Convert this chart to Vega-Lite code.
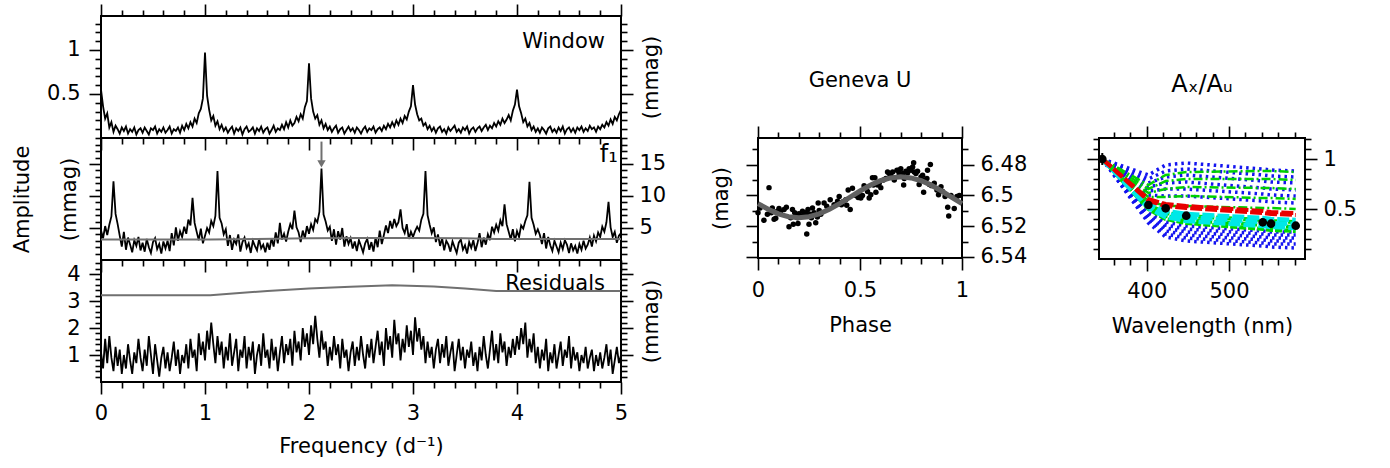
{
"$schema": "https://vega.github.io/schema/vega-lite/v6.json",
"background": "white",
"padding": {"left": 10, "top": 2, "right": 5, "bottom": 5},
"config": {
  "font": "DejaVu Sans",
  "view": {"stroke": "#000", "strokeWidth": 2},
  "axis": {"domain": false, "grid": false, "tickColor": "#000", "tickWidth": 1.6, "labelColor": "#000", "labelFont": "DejaVu Sans", "labelFontSize": 21, "titleFont": "DejaVu Sans", "titleFontSize": 21, "titleFontWeight": "normal", "titleColor": "#000", "labelOverlap": false, "labelFlush": false, "labelPadding": 6},
  "title": {"font": "DejaVu Sans", "fontSize": 21, "fontWeight": "normal", "color": "#000"},
  "text": {"font": "DejaVu Sans", "fontSize": 21, "color": "#000"}
},
"datasets": {
"spec": [
{"f":0,"w":0.55,"a":4.6,"r":1.1},{"f":0.02,"w":0.36,"a":3.4,"r":0.5},{"f":0.04,"w":0.22,"a":5.3,"r":1.6},{"f":0.06,"w":0.28,"a":3.9,"r":0.7},{"f":0.08,"w":0.12,"a":5.5,"r":1.7},{"f":0.1,"w":0.18,"a":6.8,"r":0.9},{"f":0.12,"w":0.07,"a":12.3,"r":0.4},{"f":0.14,"w":0.14,"a":7.2,"r":1.3},{"f":0.16,"w":0.1,"a":5.6,"r":0.6},{"f":0.18,"w":0.05,"a":3.8,"r":1.2},
{"f":0.2,"w":0.12,"a":2.1,"r":0.3},{"f":0.22,"w":0.08,"a":4.4,"r":1.0},{"f":0.24,"w":0.13,"a":1.6,"r":0.5},{"f":0.26,"w":0.05,"a":3.5,"r":1.4},{"f":0.28,"w":0.1,"a":2.4,"r":0.8},{"f":0.3,"w":0.07,"a":1.2,"r":0.3},{"f":0.32,"w":0.12,"a":3.1,"r":1.1},{"f":0.34,"w":0.04,"a":2.2,"r":0.7},{"f":0.36,"w":0.09,"a":3.6,"r":1.6},{"f":0.38,"w":0.11,"a":1.5,"r":0.9},
{"f":0.4,"w":0.06,"a":2.7,"r":0.4},{"f":0.42,"w":0.12,"a":1.3,"r":1.2},{"f":0.44,"w":0.08,"a":3.3,"r":0.6},{"f":0.46,"w":0.04,"a":2.0,"r":1.7},{"f":0.48,"w":0.11,"a":1.1,"r":1.0},{"f":0.5,"w":0.09,"a":2.8,"r":0.3},{"f":0.52,"w":0.13,"a":3.4,"r":1.4},{"f":0.54,"w":0.05,"a":1.7,"r":0.8},{"f":0.56,"w":0.1,"a":2.5,"r":0.2},{"f":0.58,"w":0.07,"a":1.0,"r":0.9},
{"f":0.6,"w":0.12,"a":2.9,"r":1.3},{"f":0.62,"w":0.06,"a":1.8,"r":0.5},{"f":0.64,"w":0.09,"a":3.0,"r":1.1},{"f":0.66,"w":0.13,"a":1.4,"r":0.4},{"f":0.68,"w":0.05,"a":4.2,"r":0.9},{"f":0.7,"w":0.1,"a":2.3,"r":1.5},{"f":0.72,"w":0.08,"a":5.1,"r":0.6},{"f":0.74,"w":0.12,"a":3.0,"r":1.2},{"f":0.76,"w":0.06,"a":4.5,"r":0.3},{"f":0.78,"w":0.14,"a":3.6,"r":1.0},
{"f":0.8,"w":0.09,"a":5.2,"r":0.7},{"f":0.82,"w":0.16,"a":4.1,"r":1.4},{"f":0.84,"w":0.11,"a":6.3,"r":0.5},{"f":0.86,"w":0.18,"a":5.4,"r":1.6},{"f":0.88,"w":0.13,"a":9.7,"r":0.9},{"f":0.9,"w":0.22,"a":5.8,"r":1.2},{"f":0.92,"w":0.17,"a":4.4,"r":0.4},{"f":0.94,"w":0.28,"a":3.1,"r":1.8},{"f":0.96,"w":0.33,"a":4.9,"r":1.0},{"f":0.98,"w":0.45,"a":2.6,"r":1.5},
{"f":1,"w":0.97,"a":3.8,"r":0.8},{"f":1.02,"w":0.48,"a":5.0,"r":1.9},{"f":1.04,"w":0.32,"a":4.3,"r":1.2},{"f":1.06,"w":0.2,"a":6.1,"r":2.2},{"f":1.08,"w":0.25,"a":5.3,"r":1.4},{"f":1.1,"w":0.14,"a":6.9,"r":0.7},{"f":1.12,"w":0.19,"a":13.9,"r":1.7},{"f":1.14,"w":0.1,"a":6.6,"r":1.0},{"f":1.16,"w":0.15,"a":5.7,"r":1.5},{"f":1.18,"w":0.08,"a":4.0,"r":0.5},
{"f":1.2,"w":0.12,"a":4.8,"r":1.3},{"f":1.22,"w":0.06,"a":2.2,"r":0.8},{"f":1.24,"w":0.1,"a":3.9,"r":1.8},{"f":1.26,"w":0.13,"a":1.6,"r":0.6},{"f":1.28,"w":0.05,"a":3.2,"r":1.1},{"f":1.3,"w":0.11,"a":2.5,"r":1.6},{"f":1.32,"w":0.08,"a":4.0,"r":0.4},{"f":1.34,"w":0.12,"a":1.3,"r":1.2},{"f":1.36,"w":0.04,"a":2.8,"r":0.9},{"f":1.38,"w":0.1,"a":3.5,"r":1.7},
{"f":1.4,"w":0.13,"a":1.9,"r":0.5},{"f":1.42,"w":0.07,"a":2.6,"r":1.3},{"f":1.44,"w":0.09,"a":1.1,"r":0.8},{"f":1.46,"w":0.12,"a":3.0,"r":1.5},{"f":1.48,"w":0.05,"a":2.2,"r":0.3},{"f":1.5,"w":0.11,"a":1.5,"r":1.0},{"f":1.52,"w":0.08,"a":3.3,"r":1.4},{"f":1.54,"w":0.13,"a":1.8,"r":0.6},{"f":1.56,"w":0.06,"a":2.4,"r":1.8},{"f":1.58,"w":0.1,"a":1.2,"r":0.9},
{"f":1.6,"w":0.12,"a":2.7,"r":1.2},{"f":1.62,"w":0.05,"a":1.6,"r":0.5},{"f":1.64,"w":0.09,"a":3.4,"r":1.6},{"f":1.66,"w":0.14,"a":2.1,"r":0.8},{"f":1.68,"w":0.07,"a":4.3,"r":1.3},{"f":1.7,"w":0.11,"a":2.6,"r":0.4},{"f":1.72,"w":0.09,"a":5.8,"r":1.1},{"f":1.74,"w":0.15,"a":3.2,"r":1.7},{"f":1.76,"w":0.1,"a":4.1,"r":0.7},{"f":1.78,"w":0.18,"a":2.9,"r":1.4},
{"f":1.8,"w":0.12,"a":4.4,"r":1.0},{"f":1.82,"w":0.2,"a":5.6,"r":1.6},{"f":1.84,"w":0.14,"a":4.8,"r":0.6},{"f":1.86,"w":0.17,"a":7.7,"r":1.9},{"f":1.88,"w":0.24,"a":5.1,"r":1.1},{"f":1.9,"w":0.19,"a":4.3,"r":1.5},{"f":1.92,"w":0.27,"a":2.8,"r":0.8},{"f":1.94,"w":0.22,"a":4.6,"r":2.0},{"f":1.96,"w":0.35,"a":3.4,"r":1.3},{"f":1.98,"w":0.42,"a":5.3,"r":1.8},
{"f":2,"w":0.85,"a":4.1,"r":1.0},{"f":2.02,"w":0.45,"a":5.6,"r":2.1},{"f":2.04,"w":0.3,"a":4.7,"r":1.4},{"f":2.06,"w":0.22,"a":6.4,"r":2.45},{"f":2.08,"w":0.26,"a":5.9,"r":1.6},{"f":2.1,"w":0.15,"a":7.5,"r":0.9},{"f":2.12,"w":0.2,"a":14.3,"r":1.9},{"f":2.14,"w":0.11,"a":7.1,"r":1.2},{"f":2.16,"w":0.16,"a":6.0,"r":1.5},{"f":2.18,"w":0.09,"a":4.6,"r":0.6},
{"f":2.2,"w":0.13,"a":5.2,"r":1.3},{"f":2.22,"w":0.07,"a":3.0,"r":0.8},{"f":2.24,"w":0.11,"a":4.8,"r":1.7},{"f":2.26,"w":0.14,"a":2.4,"r":1.0},{"f":2.28,"w":0.06,"a":4.5,"r":1.4},{"f":2.3,"w":0.1,"a":3.2,"r":0.5},{"f":2.32,"w":0.12,"a":5.0,"r":1.6},{"f":2.34,"w":0.05,"a":2.1,"r":0.9},{"f":2.36,"w":0.09,"a":3.7,"r":1.2},{"f":2.38,"w":0.13,"a":2.5,"r":0.4},
{"f":2.4,"w":0.08,"a":3.4,"r":1.1},{"f":2.42,"w":0.11,"a":1.8,"r":1.5},{"f":2.44,"w":0.06,"a":2.9,"r":0.6},{"f":2.46,"w":0.12,"a":1.4,"r":1.3},{"f":2.48,"w":0.09,"a":3.1,"r":0.8},{"f":2.5,"w":0.05,"a":2.2,"r":1.7},{"f":2.52,"w":0.1,"a":1.2,"r":1.0},{"f":2.54,"w":0.13,"a":2.6,"r":0.5},{"f":2.56,"w":0.07,"a":3.3,"r":1.4},{"f":2.58,"w":0.11,"a":1.6,"r":0.9},
{"f":2.6,"w":0.09,"a":2.8,"r":1.6},{"f":2.62,"w":0.13,"a":1.3,"r":0.7},{"f":2.64,"w":0.06,"a":3.5,"r":1.3},{"f":2.66,"w":0.1,"a":2.0,"r":1.9},{"f":2.68,"w":0.12,"a":4.6,"r":1.0},{"f":2.7,"w":0.08,"a":2.5,"r":1.5},{"f":2.72,"w":0.14,"a":3.9,"r":0.6},{"f":2.74,"w":0.1,"a":5.4,"r":2.0},{"f":2.76,"w":0.16,"a":4.2,"r":1.2},{"f":2.78,"w":0.12,"a":6.1,"r":1.7},
{"f":2.8,"w":0.18,"a":4.9,"r":0.9},{"f":2.82,"w":0.13,"a":6.4,"r":2.3},{"f":2.84,"w":0.2,"a":5.3,"r":1.4},{"f":2.86,"w":0.15,"a":5.9,"r":1.8},{"f":2.88,"w":0.22,"a":7.9,"r":0.8},{"f":2.9,"w":0.17,"a":5.0,"r":1.6},{"f":2.92,"w":0.25,"a":4.2,"r":1.1},{"f":2.94,"w":0.21,"a":5.6,"r":2.1},{"f":2.96,"w":0.3,"a":3.3,"r":1.3},{"f":2.98,"w":0.36,"a":4.4,"r":1.9},
{"f":3,"w":0.6,"a":3.6,"r":1.0},{"f":3.02,"w":0.38,"a":4.5,"r":2.4},{"f":3.04,"w":0.27,"a":5.2,"r":1.5},{"f":3.06,"w":0.2,"a":4.6,"r":2.0},{"f":3.08,"w":0.22,"a":6.3,"r":1.2},{"f":3.1,"w":0.14,"a":7.2,"r":1.7},{"f":3.12,"w":0.17,"a":13.9,"r":0.7},{"f":3.14,"w":0.1,"a":7.0,"r":1.5},{"f":3.16,"w":0.14,"a":5.5,"r":0.9},{"f":3.18,"w":0.08,"a":4.2,"r":1.3},
{"f":3.2,"w":0.12,"a":5.1,"r":0.5},{"f":3.22,"w":0.06,"a":2.8,"r":1.2},{"f":3.24,"w":0.11,"a":4.0,"r":1.6},{"f":3.26,"w":0.13,"a":2.2,"r":0.7},{"f":3.28,"w":0.07,"a":3.4,"r":1.4},{"f":3.3,"w":0.1,"a":1.5,"r":0.9},{"f":3.32,"w":0.05,"a":3.0,"r":1.7},{"f":3.34,"w":0.12,"a":2.4,"r":0.6},{"f":3.36,"w":0.08,"a":1.3,"r":1.1},{"f":3.38,"w":0.11,"a":2.9,"r":1.5},
{"f":3.4,"w":0.14,"a":2.0,"r":0.4},{"f":3.42,"w":0.07,"a":1.1,"r":1.0},{"f":3.44,"w":0.1,"a":2.7,"r":1.6},{"f":3.46,"w":0.06,"a":3.2,"r":0.8},{"f":3.48,"w":0.12,"a":1.6,"r":1.3},{"f":3.5,"w":0.09,"a":2.3,"r":0.5},{"f":3.52,"w":0.13,"a":1.0,"r":1.2},{"f":3.54,"w":0.05,"a":2.8,"r":0.9},{"f":3.56,"w":0.1,"a":1.9,"r":1.5},{"f":3.58,"w":0.12,"a":3.1,"r":0.6},
{"f":3.6,"w":0.07,"a":1.4,"r":1.1},{"f":3.62,"w":0.11,"a":2.6,"r":0.4},{"f":3.64,"w":0.13,"a":4.2,"r":1.3},{"f":3.66,"w":0.08,"a":2.0,"r":0.8},{"f":3.68,"w":0.12,"a":3.5,"r":1.7},{"f":3.7,"w":0.15,"a":2.4,"r":1.0},{"f":3.72,"w":0.09,"a":4.0,"r":0.5},{"f":3.74,"w":0.14,"a":3.1,"r":1.2},{"f":3.76,"w":0.11,"a":5.2,"r":1.9},{"f":3.78,"w":0.17,"a":4.3,"r":0.8},
{"f":3.8,"w":0.13,"a":5.5,"r":1.4},{"f":3.82,"w":0.19,"a":4.6,"r":0.7},{"f":3.84,"w":0.15,"a":6.2,"r":1.8},{"f":3.86,"w":0.22,"a":5.3,"r":1.1},{"f":3.88,"w":0.17,"a":8.7,"r":1.5},{"f":3.9,"w":0.21,"a":5.6,"r":0.6},{"f":3.92,"w":0.26,"a":4.4,"r":1.3},{"f":3.94,"w":0.2,"a":3.2,"r":0.9},{"f":3.96,"w":0.31,"a":4.8,"r":1.6},{"f":3.98,"w":0.38,"a":2.9,"r":1.0},
{"f":4,"w":0.55,"a":4.5,"r":1.7},{"f":4.02,"w":0.36,"a":3.6,"r":1.2},{"f":4.04,"w":0.28,"a":5.4,"r":2.0},{"f":4.06,"w":0.18,"a":4.9,"r":1.4},{"f":4.08,"w":0.22,"a":6.1,"r":2.2},{"f":4.1,"w":0.13,"a":7.0,"r":0.9},{"f":4.12,"w":0.17,"a":12.2,"r":1.6},{"f":4.14,"w":0.09,"a":6.6,"r":1.1},{"f":4.16,"w":0.13,"a":5.5,"r":1.8},{"f":4.18,"w":0.07,"a":4.1,"r":0.7},
{"f":4.2,"w":0.11,"a":4.8,"r":1.3},{"f":4.22,"w":0.06,"a":3.9,"r":0.5},{"f":4.24,"w":0.12,"a":2.5,"r":1.2},{"f":4.26,"w":0.09,"a":4.2,"r":0.8},{"f":4.28,"w":0.05,"a":1.8,"r":1.6},{"f":4.3,"w":0.11,"a":3.6,"r":0.4},{"f":4.32,"w":0.13,"a":2.3,"r":1.1},{"f":4.34,"w":0.07,"a":1.4,"r":0.7},{"f":4.36,"w":0.1,"a":3.0,"r":1.4},{"f":4.38,"w":0.06,"a":2.1,"r":0.5},
{"f":4.4,"w":0.12,"a":1.2,"r":1.0},{"f":4.42,"w":0.08,"a":2.7,"r":1.5},{"f":4.44,"w":0.13,"a":1.7,"r":0.6},{"f":4.46,"w":0.05,"a":3.1,"r":1.2},{"f":4.48,"w":0.1,"a":2.4,"r":0.9},{"f":4.5,"w":0.12,"a":1.1,"r":1.7},{"f":4.52,"w":0.07,"a":2.6,"r":0.5},{"f":4.54,"w":0.11,"a":1.5,"r":1.3},{"f":4.56,"w":0.06,"a":2.2,"r":0.8},{"f":4.58,"w":0.12,"a":1.0,"r":1.1},
{"f":4.6,"w":0.09,"a":2.5,"r":0.4},{"f":4.62,"w":0.13,"a":1.6,"r":1.0},{"f":4.64,"w":0.07,"a":3.0,"r":0.7},{"f":4.66,"w":0.11,"a":1.8,"r":1.3},{"f":4.68,"w":0.08,"a":2.4,"r":0.5},{"f":4.7,"w":0.14,"a":3.5,"r":0.9},{"f":4.72,"w":0.1,"a":2.1,"r":1.2},{"f":4.74,"w":0.12,"a":3.8,"r":0.4},{"f":4.76,"w":0.07,"a":2.9,"r":1.0},{"f":4.78,"w":0.13,"a":4.3,"r":0.6},
{"f":4.8,"w":0.1,"a":3.6,"r":1.1},{"f":4.82,"w":0.15,"a":5.2,"r":0.5},{"f":4.84,"w":0.12,"a":4.4,"r":0.9},{"f":4.86,"w":0.18,"a":5.9,"r":1.4},{"f":4.88,"w":0.14,"a":9.1,"r":0.6},{"f":4.9,"w":0.21,"a":5.1,"r":1.2},{"f":4.92,"w":0.16,"a":3.6,"r":0.3},{"f":4.94,"w":0.24,"a":4.4,"r":0.8},{"f":4.96,"w":0.2,"a":2.7,"r":1.3},{"f":4.98,"w":0.27,"a":3.8,"r":0.7},
{"f":5,"w":0.32,"a":4.2,"r":1.0}
],
"thr1": [{"f":0,"v":3.2},{"f":1.05,"v":3.2},{"f":1.5,"v":3.3},{"f":2,"v":3.4},{"f":2.5,"v":3.45},{"f":3,"v":3.45},{"f":3.5,"v":3.4},{"f":3.8,"v":3.3},{"f":5,"v":3.3}],
"thr2": [{"f":0,"v":3.21},{"f":1.05,"v":3.21},{"f":1.3,"v":3.29},{"f":1.6,"v":3.37},{"f":2,"v":3.46},{"f":2.4,"v":3.53},{"f":2.8,"v":3.58},{"f":3.2,"v":3.54},{"f":3.5,"v":3.46},{"f":3.8,"v":3.37},{"f":5,"v":3.37}],
"ph": [
{"p":0,"m":6.5113},{"p":0.01,"m":6.5081},{"p":0.029,"m":6.5162},{"p":0.046,"m":6.5123},{"p":0.054,"m":6.4949},{"p":0.065,"m":6.5113},{"p":0.07,"m":6.5081},{"p":0.079,"m":6.5155},{"p":0.087,"m":6.5149},{"p":0.095,"m":6.5102},
{"p":0.103,"m":6.5085},{"p":0.111,"m":6.5102},{"p":0.128,"m":6.5091},{"p":0.139,"m":6.5077},{"p":0.152,"m":6.5204},{"p":0.16,"m":6.5145},{"p":0.169,"m":6.5091},{"p":0.173,"m":6.5187},{"p":0.18,"m":6.5113},{"p":0.185,"m":6.5128},
{"p":0.193,"m":6.5145},{"p":0.196,"m":6.5183},{"p":0.201,"m":6.5119},{"p":0.209,"m":6.5134},{"p":0.218,"m":6.5102},{"p":0.226,"m":6.5128},{"p":0.234,"m":6.5113},{"p":0.239,"m":6.5251},{"p":0.245,"m":6.5091},{"p":0.25,"m":6.5187},
{"p":0.255,"m":6.5123},{"p":0.262,"m":6.5145},{"p":0.267,"m":6.5081},{"p":0.275,"m":6.5113},{"p":0.283,"m":6.5177},{"p":0.291,"m":6.514},{"p":0.295,"m":6.5049},{"p":0.3,"m":6.5098},{"p":0.308,"m":6.5123},{"p":0.324,"m":6.5049},
{"p":0.337,"m":6.507},{"p":0.354,"m":6.5028},{"p":0.373,"m":6.506},{"p":0.39,"m":6.5038},{"p":0.398,"m":6.5006},{"p":0.409,"m":6.506},{"p":0.414,"m":6.5043},{"p":0.43,"m":6.5028},{"p":0.435,"m":6.5064},{"p":0.442,"m":6.4964},
{"p":0.452,"m":6.5091},{"p":0.463,"m":6.4953},{"p":0.48,"m":6.5},{"p":0.491,"m":6.5013},{"p":0.496,"m":6.4985},{"p":0.504,"m":6.5017},{"p":0.512,"m":6.5},{"p":0.52,"m":6.4936},{"p":0.537,"m":6.4974},{"p":0.545,"m":6.5017},
{"p":0.553,"m":6.4996},{"p":0.561,"m":6.4885},{"p":0.566,"m":6.4932},{"p":0.573,"m":6.4885},{"p":0.578,"m":6.4979},{"p":0.586,"m":6.4932},{"p":0.594,"m":6.4921},{"p":0.602,"m":6.4949},{"p":0.615,"m":6.49},{"p":0.627,"m":6.4889},
{"p":0.635,"m":6.4847},{"p":0.643,"m":6.4857},{"p":0.651,"m":6.4872},{"p":0.66,"m":6.4847},{"p":0.668,"m":6.49},{"p":0.681,"m":6.4836},{"p":0.689,"m":6.4836},{"p":0.692,"m":6.4857},{"p":0.7,"m":6.4826},{"p":0.709,"m":6.4857},
{"p":0.714,"m":6.4932},{"p":0.717,"m":6.4889},{"p":0.725,"m":6.4843},{"p":0.733,"m":6.4853},{"p":0.741,"m":6.4826},{"p":0.75,"m":6.4836},{"p":0.758,"m":6.4815},{"p":0.763,"m":6.4787},{"p":0.766,"m":6.4847},{"p":0.774,"m":6.4857},
{"p":0.782,"m":6.4843},{"p":0.79,"m":6.4928},{"p":0.799,"m":6.4879},{"p":0.807,"m":6.4868},{"p":0.812,"m":6.4979},{"p":0.818,"m":6.49},{"p":0.828,"m":6.4889},{"p":0.831,"m":6.4836},{"p":0.84,"m":6.4928},{"p":0.845,"m":6.4798},
{"p":0.851,"m":6.4936},{"p":0.864,"m":6.4921},{"p":0.877,"m":6.4964},{"p":0.885,"m":6.4996},{"p":0.89,"m":6.497},{"p":0.897,"m":6.4943},{"p":0.905,"m":6.4974},{"p":0.917,"m":6.5006},{"p":0.93,"m":6.5077},{"p":0.935,"m":6.5134},
{"p":0.946,"m":6.5},{"p":0.962,"m":6.5085},{"p":0.975,"m":6.5006},{"p":0.987,"m":6.5}
],
"fit": [
{"p":0,"m":6.5053},{"p":0.05,"m":6.509},{"p":0.1,"m":6.512},{"p":0.15,"m":6.5138},{"p":0.2,"m":6.5145},{"p":0.25,"m":6.5138},{"p":0.3,"m":6.512},{"p":0.35,"m":6.509},{"p":0.4,"m":6.5053},{"p":0.45,"m":6.5012},{"p":0.5,"m":6.4971},
{"p":0.55,"m":6.4934},{"p":0.6,"m":6.4904},{"p":0.65,"m":6.4886},{"p":0.7,"m":6.4879},{"p":0.75,"m":6.4886},{"p":0.8,"m":6.4904},{"p":0.85,"m":6.4934},{"p":0.9,"m":6.4971},{"p":0.95,"m":6.5012},{"p":1,"m":6.5053}
],
"mod": [
{"id":"b1","g":"b","x":346,"v":1},{"id":"b1","g":"b","x":402,"v":0.84},{"id":"b1","g":"b","x":423,"v":0.94},{"id":"b1","g":"b","x":448,"v":0.96},{"id":"b1","g":"b","x":541,"v":0.9},{"id":"b1","g":"b","x":551,"v":0.89},{"id":"b1","g":"b","x":581,"v":0.88},
{"id":"b2","g":"b","x":346,"v":1},{"id":"b2","g":"b","x":402,"v":0.8},{"id":"b2","g":"b","x":423,"v":0.88},{"id":"b2","g":"b","x":448,"v":0.9},{"id":"b2","g":"b","x":541,"v":0.84},{"id":"b2","g":"b","x":551,"v":0.83},{"id":"b2","g":"b","x":581,"v":0.82},
{"id":"b3","g":"b","x":346,"v":1},{"id":"b3","g":"b","x":402,"v":0.76},{"id":"b3","g":"b","x":423,"v":0.82},{"id":"b3","g":"b","x":448,"v":0.84},{"id":"b3","g":"b","x":541,"v":0.78},{"id":"b3","g":"b","x":551,"v":0.77},{"id":"b3","g":"b","x":581,"v":0.76},
{"id":"b4","g":"b","x":346,"v":1},{"id":"b4","g":"b","x":402,"v":0.72},{"id":"b4","g":"b","x":423,"v":0.76},{"id":"b4","g":"b","x":448,"v":0.77},{"id":"b4","g":"b","x":541,"v":0.71},{"id":"b4","g":"b","x":551,"v":0.7},{"id":"b4","g":"b","x":581,"v":0.69},
{"id":"b5","g":"b","x":346,"v":1},{"id":"b5","g":"b","x":402,"v":0.68},{"id":"b5","g":"b","x":423,"v":0.7},{"id":"b5","g":"b","x":448,"v":0.7},{"id":"b5","g":"b","x":541,"v":0.65},{"id":"b5","g":"b","x":551,"v":0.64},{"id":"b5","g":"b","x":581,"v":0.63},
{"id":"b6","g":"b","x":346,"v":1},{"id":"b6","g":"b","x":402,"v":0.64},{"id":"b6","g":"b","x":423,"v":0.63},{"id":"b6","g":"b","x":448,"v":0.63},{"id":"b6","g":"b","x":541,"v":0.58},{"id":"b6","g":"b","x":551,"v":0.57},{"id":"b6","g":"b","x":581,"v":0.56},
{"id":"b7","g":"b","x":346,"v":1},{"id":"b7","g":"b","x":402,"v":0.36},{"id":"b7","g":"b","x":423,"v":0.22},{"id":"b7","g":"b","x":448,"v":0.18},{"id":"b7","g":"b","x":541,"v":0.13},{"id":"b7","g":"b","x":551,"v":0.12},{"id":"b7","g":"b","x":581,"v":0.11},
{"id":"b8","g":"b","x":346,"v":1},{"id":"b8","g":"b","x":402,"v":0.38},{"id":"b8","g":"b","x":423,"v":0.25},{"id":"b8","g":"b","x":448,"v":0.21},{"id":"b8","g":"b","x":541,"v":0.16},{"id":"b8","g":"b","x":551,"v":0.15},{"id":"b8","g":"b","x":581,"v":0.15},
{"id":"b9","g":"b","x":346,"v":1},{"id":"b9","g":"b","x":402,"v":0.4},{"id":"b9","g":"b","x":423,"v":0.28},{"id":"b9","g":"b","x":448,"v":0.24},{"id":"b9","g":"b","x":541,"v":0.19},{"id":"b9","g":"b","x":551,"v":0.18},{"id":"b9","g":"b","x":581,"v":0.18},
{"id":"b10","g":"b","x":346,"v":1},{"id":"b10","g":"b","x":402,"v":0.42},{"id":"b10","g":"b","x":423,"v":0.31},{"id":"b10","g":"b","x":448,"v":0.27},{"id":"b10","g":"b","x":541,"v":0.22},{"id":"b10","g":"b","x":551,"v":0.21},{"id":"b10","g":"b","x":581,"v":0.21},
{"id":"b11","g":"b","x":346,"v":1},{"id":"b11","g":"b","x":402,"v":0.44},{"id":"b11","g":"b","x":423,"v":0.34},{"id":"b11","g":"b","x":448,"v":0.3},{"id":"b11","g":"b","x":541,"v":0.25},{"id":"b11","g":"b","x":551,"v":0.24},{"id":"b11","g":"b","x":581,"v":0.24},
{"id":"b12","g":"b","x":346,"v":1},{"id":"b12","g":"b","x":402,"v":0.46},{"id":"b12","g":"b","x":423,"v":0.37},{"id":"b12","g":"b","x":448,"v":0.33},{"id":"b12","g":"b","x":541,"v":0.28},{"id":"b12","g":"b","x":551,"v":0.27},{"id":"b12","g":"b","x":581,"v":0.27},
{"id":"g1","g":"g","x":346,"v":1},{"id":"g1","g":"g","x":402,"v":0.74},{"id":"g1","g":"g","x":423,"v":0.84},{"id":"g1","g":"g","x":448,"v":0.87},{"id":"g1","g":"g","x":541,"v":0.88},{"id":"g1","g":"g","x":551,"v":0.88},{"id":"g1","g":"g","x":581,"v":0.87},
{"id":"g2","g":"g","x":346,"v":1},{"id":"g2","g":"g","x":402,"v":0.7},{"id":"g2","g":"g","x":423,"v":0.78},{"id":"g2","g":"g","x":448,"v":0.8},{"id":"g2","g":"g","x":541,"v":0.8},{"id":"g2","g":"g","x":551,"v":0.8},{"id":"g2","g":"g","x":581,"v":0.79},
{"id":"g3","g":"g","x":346,"v":1},{"id":"g3","g":"g","x":402,"v":0.66},{"id":"g3","g":"g","x":423,"v":0.7},{"id":"g3","g":"g","x":448,"v":0.72},{"id":"g3","g":"g","x":541,"v":0.71},{"id":"g3","g":"g","x":551,"v":0.71},{"id":"g3","g":"g","x":581,"v":0.7},
{"id":"g4","g":"g","x":346,"v":1},{"id":"g4","g":"g","x":402,"v":0.62},{"id":"g4","g":"g","x":423,"v":0.62},{"id":"g4","g":"g","x":448,"v":0.63},{"id":"g4","g":"g","x":541,"v":0.61},{"id":"g4","g":"g","x":551,"v":0.61},{"id":"g4","g":"g","x":581,"v":0.6},
{"id":"g5","g":"g","x":346,"v":1},{"id":"g5","g":"g","x":402,"v":0.58},{"id":"g5","g":"g","x":423,"v":0.53},{"id":"g5","g":"g","x":448,"v":0.53},{"id":"g5","g":"g","x":541,"v":0.51},{"id":"g5","g":"g","x":551,"v":0.51},{"id":"g5","g":"g","x":581,"v":0.5},
{"id":"G1","g":"G","x":346,"v":1},{"id":"G1","g":"G","x":402,"v":0.54},{"id":"G1","g":"G","x":423,"v":0.46},{"id":"G1","g":"G","x":448,"v":0.43},{"id":"G1","g":"G","x":541,"v":0.39},{"id":"G1","g":"G","x":551,"v":0.38},{"id":"G1","g":"G","x":581,"v":0.37},
{"id":"G2","g":"G","x":346,"v":1},{"id":"G2","g":"G","x":402,"v":0.52},{"id":"G2","g":"G","x":423,"v":0.43},{"id":"G2","g":"G","x":448,"v":0.39},{"id":"G2","g":"G","x":541,"v":0.34},{"id":"G2","g":"G","x":551,"v":0.33},{"id":"G2","g":"G","x":581,"v":0.32},
{"id":"G3","g":"G","x":346,"v":1},{"id":"G3","g":"G","x":402,"v":0.5},{"id":"G3","g":"G","x":423,"v":0.4},{"id":"G3","g":"G","x":448,"v":0.36},{"id":"G3","g":"G","x":541,"v":0.3},{"id":"G3","g":"G","x":551,"v":0.29},{"id":"G3","g":"G","x":581,"v":0.28},
{"id":"c1","g":"c","x":346,"v":1},{"id":"c1","g":"c","x":402,"v":0.55},{"id":"c1","g":"c","x":423,"v":0.48},{"id":"c1","g":"c","x":448,"v":0.45},{"id":"c1","g":"c","x":541,"v":0.41},{"id":"c1","g":"c","x":551,"v":0.4},{"id":"c1","g":"c","x":581,"v":0.39},
{"id":"c2","g":"c","x":346,"v":1},{"id":"c2","g":"c","x":402,"v":0.53},{"id":"c2","g":"c","x":423,"v":0.45},{"id":"c2","g":"c","x":448,"v":0.42},{"id":"c2","g":"c","x":541,"v":0.37},{"id":"c2","g":"c","x":551,"v":0.36},{"id":"c2","g":"c","x":581,"v":0.35},
{"id":"c3","g":"c","x":346,"v":1},{"id":"c3","g":"c","x":402,"v":0.51},{"id":"c3","g":"c","x":423,"v":0.42},{"id":"c3","g":"c","x":448,"v":0.38},{"id":"c3","g":"c","x":541,"v":0.33},{"id":"c3","g":"c","x":551,"v":0.32},{"id":"c3","g":"c","x":581,"v":0.31},
{"id":"r1","g":"r","x":346,"v":1},{"id":"r1","g":"r","x":402,"v":0.6},{"id":"r1","g":"r","x":423,"v":0.55},{"id":"r1","g":"r","x":448,"v":0.53},{"id":"r1","g":"r","x":541,"v":0.48},{"id":"r1","g":"r","x":551,"v":0.47},{"id":"r1","g":"r","x":581,"v":0.46},
{"id":"r2","g":"r","x":346,"v":1},{"id":"r2","g":"r","x":402,"v":0.58},{"id":"r2","g":"r","x":423,"v":0.53},{"id":"r2","g":"r","x":448,"v":0.51},{"id":"r2","g":"r","x":541,"v":0.46},{"id":"r2","g":"r","x":551,"v":0.45},{"id":"r2","g":"r","x":581,"v":0.44}
],
"obs": [
{"x":346,"v":1,"lo":0.94,"hi":1.06},{"x":402,"v":0.54,"lo":0.51,"hi":0.57},{"x":423,"v":0.507,"lo":0.48,"hi":0.535},{"x":448,"v":0.433,"lo":0.405,"hi":0.46},{"x":541,"v":0.367,"lo":0.34,"hi":0.395},{"x":551,"v":0.353,"lo":0.325,"hi":0.38},{"x":581,"v":0.333,"lo":0.305,"hi":0.36}
]
},
"columns": 3,
"bounds": "flush",
"align": "each",
"spacing": {"row": 0, "column": 137},
"concat": [
{
 "width": 520, "height": 122,
 "resolve": {"axis": {"x": "independent", "y": "independent"}},
 "layer": [
  {"data": {"name": "spec"}, "mark": {"type": "line", "color": "#000", "strokeWidth": 1.8},
   "encoding": {
    "x": {"field": "f", "type": "quantitative", "scale": {"domain": [0, 5], "nice": false, "zero": false},
          "axis": {"orient": "bottom", "values": [0,0.2,0.4,0.6,0.8,1,1.2,1.4,1.6,1.8,2,2.2,2.4,2.6,2.8,3,3.2,3.4,3.6,3.8,4,4.2,4.4,4.6,4.8,5], "labels": false, "title": null, "tickSize": {"condition": {"test": "datum.value % 1 == 0", "value": 12}, "value": 6}}},
    "y": {"field": "w", "type": "quantitative", "scale": {"domain": [0, 1.386], "nice": false, "zero": false},
          "axis": {"orient": "left", "values": [0.1,0.2,0.3,0.4,0.5,0.6,0.7,0.8,0.9,1,1.1,1.2,1.3], "title": null, "labelPadding": 9, "labelExpr": "datum.value == 0.5 ? '0.5' : datum.value == 1 ? '1' : ''", "tickSize": {"condition": {"test": "datum.value == 0.5 || datum.value == 1", "value": 12}, "value": 6}}}
   }},
  {"data": {"values": [{}]}, "mark": {"type": "text", "align": "right", "baseline": "middle", "fontSize": 21},
   "encoding": {
    "x": {"datum": 4.846, "type": "quantitative", "scale": {"domain": [0, 5], "nice": false, "zero": false},
          "axis": {"orient": "top", "values": [0,0.2,0.4,0.6,0.8,1,1.2,1.4,1.6,1.8,2,2.2,2.4,2.6,2.8,3,3.2,3.4,3.6,3.8,4,4.2,4.4,4.6,4.8,5], "labels": false, "title": null, "tickSize": {"condition": {"test": "datum.value % 1 == 0", "value": 12}, "value": 6}}},
    "y": {"datum": 1.09, "type": "quantitative", "scale": {"domain": [0, 1.386], "nice": false, "zero": false},
          "axis": {"orient": "right", "values": [0.1,0.2,0.3,0.4,0.5,0.6,0.7,0.8,0.9,1,1.1,1.2,1.3], "labels": false, "title": "(mmag)", "titleAngle": -90, "titleBaseline": "top", "titlePadding": 7, "tickSize": {"condition": {"test": "datum.value == 0.5 || datum.value == 1", "value": 12}, "value": 6}}},
    "text": {"value": "Window"}
   }}
 ]
},
{"width": 1, "height": 1, "view": {"stroke": null}, "data": {"values": []}, "mark": "point", "encoding": {}},
{"width": 1, "height": 1, "view": {"stroke": null}, "data": {"values": []}, "mark": "point", "encoding": {}},
{
 "width": 520, "height": 122,
 "resolve": {"axis": {"x": "independent", "y": "independent"}},
 "layer": [
  {"data": {"name": "spec"}, "mark": {"type": "line", "color": "#000", "strokeWidth": 1.8},
   "encoding": {
    "x": {"field": "f", "type": "quantitative", "scale": {"domain": [0, 5], "nice": false, "zero": false},
          "axis": {"orient": "bottom", "values": [0,0.2,0.4,0.6,0.8,1,1.2,1.4,1.6,1.8,2,2.2,2.4,2.6,2.8,3,3.2,3.4,3.6,3.8,4,4.2,4.4,4.6,4.8,5], "labels": false, "title": null, "tickSize": {"condition": {"test": "datum.value % 1 == 0", "value": 12}, "value": 6}}},
    "y": {"field": "a", "type": "quantitative", "scale": {"domain": [0, 19.06], "nice": false, "zero": false},
          "axis": {"orient": "left", "values": [1,2,3,4,5,6,7,8,9,10,11,12,13,14,15,16,17,18,19], "labels": false, "title": ["Amplitude", "(mmag)"], "titleLineHeight": 47, "titlePadding": 9, "tickSize": {"condition": {"test": "datum.value % 5 == 0", "value": 12}, "value": 6}}}
   }},
  {"data": {"name": "thr1"}, "mark": {"type": "line", "color": "#707070", "strokeWidth": 2},
   "encoding": {
    "x": {"field": "f", "type": "quantitative", "scale": {"domain": [0, 5], "nice": false, "zero": false}, "axis": null},
    "y": {"field": "v", "type": "quantitative", "scale": {"domain": [0, 19.06], "nice": false, "zero": false}, "axis": null}
   }},
  {"data": {"values": [{}]}, "mark": {"type": "rule", "color": "#707070", "strokeWidth": 2},
   "encoding": {
    "x": {"datum": 2.12, "type": "quantitative", "scale": {"domain": [0, 5], "nice": false, "zero": false}, "axis": null},
    "y": {"datum": 18.5, "type": "quantitative", "scale": {"domain": [0, 19.06], "nice": false, "zero": false}, "axis": null},
    "y2": {"datum": 15.4}
   }},
  {"data": {"values": [{}]}, "mark": {"type": "point", "shape": "triangle-down", "filled": true, "color": "#707070", "size": 70, "opacity": 1},
   "encoding": {
    "x": {"datum": 2.12, "type": "quantitative", "scale": {"domain": [0, 5], "nice": false, "zero": false}, "axis": null},
    "y": {"datum": 15.0, "type": "quantitative", "scale": {"domain": [0, 19.06], "nice": false, "zero": false}, "axis": null}
   }},
  {"data": {"values": [{}]}, "mark": {"type": "text", "align": "right", "baseline": "alphabetic", "fontSize": 24},
   "encoding": {
    "x": {"datum": 4.97, "type": "quantitative", "scale": {"domain": [0, 5], "nice": false, "zero": false}, "axis": null},
    "y": {"datum": 15.3, "type": "quantitative", "scale": {"domain": [0, 19.06], "nice": false, "zero": false},
          "axis": {"orient": "right", "values": [1,2,3,4,5,6,7,8,9,10,11,12,13,14,15,16,17,18,19], "title": null, "labelPadding": 6, "labelExpr": "datum.value % 5 == 0 ? format(datum.value, 'd') : ''", "tickSize": {"condition": {"test": "datum.value % 5 == 0", "value": 12}, "value": 6}}},
    "text": {"value": "f₁"}
   }}
 ]
},
{
 "width": 204, "height": 120,
 "title": {"text": "Geneva  U", "offset": 34, "fontSize": 21},
 "resolve": {"axis": {"x": "independent", "y": "independent"}},
 "layer": [
  {"data": {"name": "ph"}, "mark": {"type": "circle", "color": "#000", "size": 30, "opacity": 1},
   "encoding": {
    "x": {"field": "p", "type": "quantitative", "scale": {"domain": [0, 1], "nice": false, "zero": false},
          "axis": {"orient": "bottom", "values": [0,0.1,0.2,0.3,0.4,0.5,0.6,0.7,0.8,0.9,1], "title": "Phase", "titlePadding": 14, "labelPadding": 9, "labelExpr": "datum.value == 0 ? '0' : datum.value == 0.5 ? '0.5' : datum.value == 1 ? '1' : ''", "tickSize": {"condition": {"test": "datum.value == 0 || datum.value == 0.5 || datum.value == 1", "value": 12}, "value": 6}}},
    "y": {"field": "m", "type": "quantitative", "scale": {"domain": [6.4626, 6.5407], "reverse": true, "nice": false, "zero": false},
          "axis": {"orient": "left", "values": [6.47,6.48,6.49,6.5,6.51,6.52,6.53,6.54], "labels": false, "title": "(mag)", "titlePadding": 14, "tickSize": {"condition": {"test": "datum.value == 6.48 || datum.value == 6.5 || datum.value == 6.52 || datum.value == 6.54", "value": 12}, "value": 6}}}
   }},
  {"data": {"name": "fit"}, "mark": {"type": "line", "color": "#606060", "strokeWidth": 5},
   "encoding": {
    "x": {"field": "p", "type": "quantitative", "scale": {"domain": [0, 1], "nice": false, "zero": false},
          "axis": {"orient": "top", "values": [0,0.1,0.2,0.3,0.4,0.5,0.6,0.7,0.8,0.9,1], "labels": false, "title": null, "tickSize": {"condition": {"test": "datum.value == 0 || datum.value == 0.5 || datum.value == 1", "value": 12}, "value": 6}}},
    "y": {"field": "m", "type": "quantitative", "scale": {"domain": [6.4626, 6.5407], "reverse": true, "nice": false, "zero": false},
          "axis": {"orient": "right", "values": [6.47,6.48,6.49,6.5,6.51,6.52,6.53,6.54], "title": null, "labelPadding": 6, "labelExpr": "(datum.value == 6.48 || datum.value == 6.5 || datum.value == 6.52 || datum.value == 6.54) ? format(datum.value, '~g') : ''", "tickSize": {"condition": {"test": "datum.value == 6.48 || datum.value == 6.5 || datum.value == 6.52 || datum.value == 6.54", "value": 12}, "value": 6}}}
   }}
 ]
},
{
 "width": 206, "height": 121,
 "title": {"text": "Aₓ/Aᵤ", "offset": 28, "fontSize": 24},
 "resolve": {"axis": {"x": "independent", "y": "independent"}},
 "layer": [
  {"data": {"name": "mod"}, "transform": [{"filter": "datum.g == 'b'"}], "mark": {"type": "line", "color": "#1414f0", "strokeWidth": 3.5, "strokeDash": [2.5, 4]},
   "encoding": {
    "x": {"field": "x", "type": "quantitative", "scale": {"domain": [342, 592.3], "nice": false, "zero": false},
          "axis": {"orient": "bottom", "values": [360,380,400,420,440,460,480,500,520,540,560,580], "title": "Wavelength  (nm)", "titlePadding": 14, "labelPadding": 9, "labelExpr": "datum.value == 400 ? '400' : datum.value == 500 ? '500' : ''", "tickSize": {"condition": {"test": "datum.value == 400 || datum.value == 500", "value": 12}, "value": 6}}},
    "y": {"field": "v", "type": "quantitative", "scale": {"domain": [0, 1.21], "nice": false, "zero": false},
          "axis": {"orient": "left", "values": [0.1,0.2,0.3,0.4,0.5,0.6,0.7,0.8,0.9,1,1.1,1.2], "labels": false, "title": null, "tickSize": {"condition": {"test": "datum.value == 0.5 || datum.value == 1", "value": 12}, "value": 6}}},
    "detail": {"field": "id"}
   }},
  {"data": {"name": "mod"}, "transform": [{"filter": "datum.g == 'g'"}], "mark": {"type": "line", "color": "#00d000", "strokeWidth": 2.5, "strokeDash": [9, 3, 2, 3]},
   "encoding": {
    "x": {"field": "x", "type": "quantitative", "scale": {"domain": [342, 592.3], "nice": false, "zero": false}, "axis": null},
    "y": {"field": "v", "type": "quantitative", "scale": {"domain": [0, 1.21], "nice": false, "zero": false}, "axis": null},
    "detail": {"field": "id"}
   }},
  {"data": {"name": "mod"}, "transform": [{"filter": "datum.g == 'G'"}], "mark": {"type": "line", "color": "#00d800", "strokeWidth": 4, "strokeDash": [7, 2]},
   "encoding": {
    "x": {"field": "x", "type": "quantitative", "scale": {"domain": [342, 592.3], "nice": false, "zero": false}, "axis": null},
    "y": {"field": "v", "type": "quantitative", "scale": {"domain": [0, 1.21], "nice": false, "zero": false}, "axis": null},
    "detail": {"field": "id"}
   }},
  {"data": {"name": "mod"}, "transform": [{"filter": "datum.g == 'c'"}], "mark": {"type": "line", "color": "#00e8e8", "strokeWidth": 4.5, "strokeDash": [12, 3]},
   "encoding": {
    "x": {"field": "x", "type": "quantitative", "scale": {"domain": [342, 592.3], "nice": false, "zero": false}, "axis": null},
    "y": {"field": "v", "type": "quantitative", "scale": {"domain": [0, 1.21], "nice": false, "zero": false}, "axis": null},
    "detail": {"field": "id"}
   }},
  {"data": {"name": "mod"}, "transform": [{"filter": "datum.g == 'r'"}], "mark": {"type": "line", "color": "#e80000", "strokeWidth": 4, "strokeDash": [12, 3]},
   "encoding": {
    "x": {"field": "x", "type": "quantitative", "scale": {"domain": [342, 592.3], "nice": false, "zero": false}, "axis": null},
    "y": {"field": "v", "type": "quantitative", "scale": {"domain": [0, 1.21], "nice": false, "zero": false}, "axis": null},
    "detail": {"field": "id"}
   }},
  {"data": {"name": "obs"}, "mark": {"type": "rule", "color": "#000", "strokeWidth": 2},
   "encoding": {
    "x": {"field": "x", "type": "quantitative", "scale": {"domain": [342, 592.3], "nice": false, "zero": false}, "axis": null},
    "y": {"field": "lo", "type": "quantitative", "scale": {"domain": [0, 1.21], "nice": false, "zero": false}, "axis": null},
    "y2": {"field": "hi"}
   }},
  {"data": {"name": "obs"}, "mark": {"type": "circle", "color": "#000", "size": 75, "opacity": 1},
   "encoding": {
    "x": {"field": "x", "type": "quantitative", "scale": {"domain": [342, 592.3], "nice": false, "zero": false},
          "axis": {"orient": "top", "values": [360,380,400,420,440,460,480,500,520,540,560,580], "labels": false, "title": null, "tickSize": {"condition": {"test": "datum.value == 400 || datum.value == 500", "value": 12}, "value": 6}}},
    "y": {"field": "v", "type": "quantitative", "scale": {"domain": [0, 1.21], "nice": false, "zero": false},
          "axis": {"orient": "right", "values": [0.1,0.2,0.3,0.4,0.5,0.6,0.7,0.8,0.9,1,1.1,1.2], "title": null, "labelPadding": 6, "labelExpr": "datum.value == 0.5 ? '0.5' : datum.value == 1 ? '1' : ''", "tickSize": {"condition": {"test": "datum.value == 0.5 || datum.value == 1", "value": 12}, "value": 6}}}
   }}
 ]
},
{
 "width": 520, "height": 122,
 "resolve": {"axis": {"x": "independent", "y": "independent"}},
 "layer": [
  {"data": {"name": "spec"}, "mark": {"type": "line", "color": "#000", "strokeWidth": 1.8},
   "encoding": {
    "x": {"field": "f", "type": "quantitative", "scale": {"domain": [0, 5], "nice": false, "zero": false},
          "axis": {"orient": "bottom", "values": [0,0.2,0.4,0.6,0.8,1,1.2,1.4,1.6,1.8,2,2.2,2.4,2.6,2.8,3,3.2,3.4,3.6,3.8,4,4.2,4.4,4.6,4.8,5], "title": "Frequency  (d⁻¹)", "titlePadding": 12, "labelPadding": 8, "labelExpr": "datum.value % 1 == 0 ? format(datum.value, 'd') : ''", "tickSize": {"condition": {"test": "datum.value % 1 == 0", "value": 12}, "value": 6}}},
    "y": {"field": "r", "type": "quantitative", "scale": {"domain": [0, 4.52], "nice": false, "zero": false},
          "axis": {"orient": "left", "values": [0.2,0.4,0.6,0.8,1,1.2,1.4,1.6,1.8,2,2.2,2.4,2.6,2.8,3,3.2,3.4,3.6,3.8,4,4.2,4.4], "title": null, "labelPadding": 9, "labelExpr": "datum.value % 1 == 0 ? format(datum.value, 'd') : ''", "tickSize": {"condition": {"test": "datum.value % 1 == 0", "value": 12}, "value": 6}}}
   }},
  {"data": {"name": "thr2"}, "mark": {"type": "line", "color": "#707070", "strokeWidth": 2},
   "encoding": {
    "x": {"field": "f", "type": "quantitative", "scale": {"domain": [0, 5], "nice": false, "zero": false}, "axis": null},
    "y": {"field": "v", "type": "quantitative", "scale": {"domain": [0, 4.52], "nice": false, "zero": false}, "axis": null}
   }},
  {"data": {"values": [{}]}, "mark": {"type": "text", "align": "right", "baseline": "middle", "fontSize": 21},
   "encoding": {
    "x": {"datum": 4.846, "type": "quantitative", "scale": {"domain": [0, 5], "nice": false, "zero": false}, "axis": null},
    "y": {"datum": 3.63, "type": "quantitative", "scale": {"domain": [0, 4.52], "nice": false, "zero": false},
          "axis": {"orient": "right", "values": [0.2,0.4,0.6,0.8,1,1.2,1.4,1.6,1.8,2,2.2,2.4,2.6,2.8,3,3.2,3.4,3.6,3.8,4,4.2,4.4], "labels": false, "title": "(mmag)", "titleAngle": -90, "titleBaseline": "top", "titlePadding": 7, "tickSize": {"condition": {"test": "datum.value % 1 == 0", "value": 12}, "value": 6}}},
    "text": {"value": "Residuals"}
   }}
 ]
}
]
}
